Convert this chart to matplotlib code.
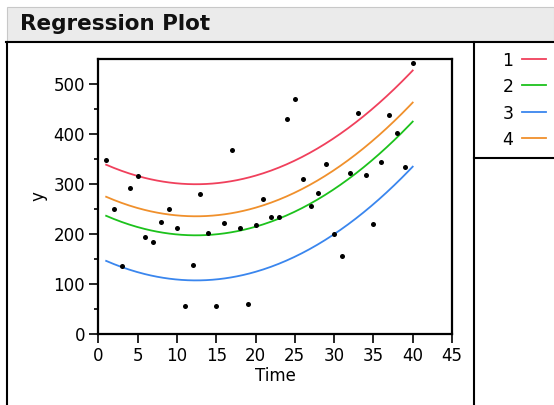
import numpy as np
import matplotlib
matplotlib.use("Agg")
import matplotlib.pyplot as plt
from matplotlib.lines import Line2D
from matplotlib.patches import Rectangle
from matplotlib.ticker import MultipleLocator

plt.rcParams['font.family'] = ['DejaVu Sans']

# Observations
time = list(range(1, 41))
y_obs = [347, 250, 136, 292, 316, 193, 183, 224, 250, 212,
         55, 138, 280, 202, 55, 222, 367, 211, 59, 218,
         270, 234, 234, 429, 469, 309, 256, 282, 339, 200,
         156, 322, 442, 318, 220, 343, 437, 402, 333, 541]

# Fitted quadratic per group: y = b0 + b1*t + b2*t^2 (shared slope terms)
groups = ['1', '2', '3', '4']
intercepts = [345.1, 243.1, 153.1, 281.1]
b1 = -7.42
b2 = 0.2986
colors = ['#f0405c', '#1cc21c', '#3a86ee', '#f0902c']

W, H = 554, 405
fig = plt.figure(figsize=(W / 100, H / 100), dpi=100)


def fx(px):
    return px / W


def fy(py):
    return 1 - py / H


# Header bar
fig.patches.append(Rectangle((fx(7), fy(41)), fx(554) - fx(7), fy(7) - fy(41),
                             transform=fig.transFigure, facecolor='#ebebeb',
                             edgecolor='#c8c8c8', linewidth=0.8))
fig.text(fx(20), fy(24), 'Regression Plot', fontsize=15.5, fontweight='bold',
         ha='left', va='center', color='#111111')

# Outline boxes
frame_kw = dict(transform=fig.transFigure, color='black', linewidth=1.5)
fig.lines.append(Line2D([fx(7), fx(7)], [fy(42), fy(405)], **frame_kw))
fig.lines.append(Line2D([fx(6.3), fx(554)], [fy(42), fy(42)], **frame_kw))
fig.lines.append(Line2D([fx(474), fx(474)], [fy(42), fy(405)], **frame_kw))
fig.lines.append(Line2D([fx(474), fx(554)], [fy(158), fy(158)], **frame_kw))

# Plot area
ax = fig.add_axes([fx(98.3), fy(334), fx(452) - fx(98.3), fy(59) - fy(334)])
t = np.linspace(min(time), max(time), 200)
for g, b0, c in zip(groups, intercepts, colors):
    ax.plot(t, b0 + b1 * t + b2 * t ** 2, color=c, linewidth=1.3, zorder=2)
ax.scatter(time, y_obs, s=13, color='black', zorder=3, linewidths=0)

ax.set_xlim(0, 45)
ax.set_ylim(0, 549)
ax.xaxis.set_major_locator(MultipleLocator(5))
ax.yaxis.set_major_locator(MultipleLocator(100))
ax.yaxis.set_minor_locator(MultipleLocator(50))
for s in ax.spines.values():
    s.set_linewidth(1.6)
ax.tick_params(axis='both', which='major', direction='out', length=6.5, width=1.2,
               labelsize=12, pad=3)
ax.tick_params(axis='y', which='minor', direction='out', length=3, width=1.2)
ax.set_xlabel('Time', fontsize=12, labelpad=1)
ax.set_ylabel('y', fontsize=12, labelpad=4)

# Legend entries
rows = [59, 85, 112, 138]
for g, c, r in zip(groups, colors, rows):
    fig.text(fx(508), fy(r + 2), g, fontsize=12.5, ha='center', va='center')
    fig.lines.append(Line2D([fx(522), fx(546)], [fy(r), fy(r)],
                            transform=fig.transFigure, color=c, linewidth=1.3))

fig.savefig('out.png', dpi=100)
